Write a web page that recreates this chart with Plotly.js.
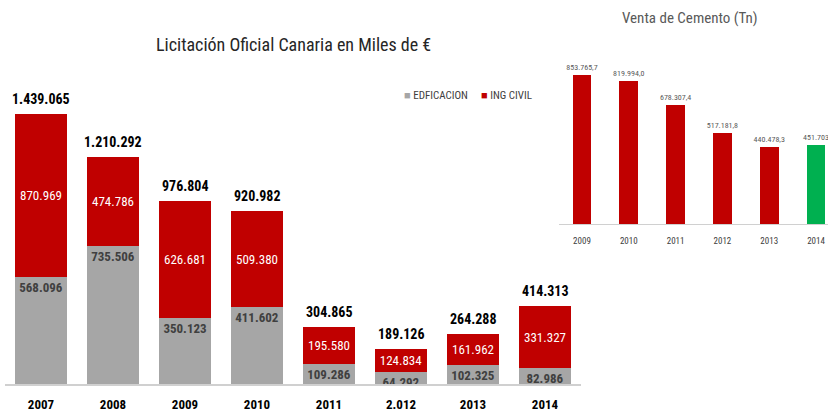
<!DOCTYPE html>
<html><head><meta charset="utf-8">
<script src="https://cdn.plot.ly/plotly-3.0.1.min.js"></script>
<style>html,body{margin:0;padding:0;background:#fff}#c{width:828px;height:412px}</style>
</head><body><div id="c"></div>
<script>
// Licitación Oficial Canaria (miles de €)
const years = ['2007','2008','2009','2010','2011','2.012','2013','2014'];
const edificacion = [568096, 735506, 350123, 411602, 109286, 64292, 102325, 82986];
const ingCivil = [870969, 474786, 626681, 509380, 195580, 124834, 161962, 331327];
const totals = [1439065, 1210292, 976804, 920982, 304865, 189126, 264288, 414313];

// Venta de Cemento (Tn)
const cementYears = ['2009','2010','2011','2012','2013','2014'];
const cementValues = [853765.7, 819994.0, 678307.4, 517181.8, 440478.3, 451703];
const cementLabels = ['853.765,7','819.994,0','678.307,4','517.181,8','440.478,3','451.703'];

function fmt(v){ return String(Math.round(v)).replace(/\B(?=(\d{3})+(?!\d))/g,'.'); }

const FONT = 'Liberation Sans Narrow, Roboto Condensed, Roboto, Arial, sans-serif';
const RED = '#c00000', GRAY = '#a6a6a6', GREEN = '#00b050';
const W = 828, H = 412;

const traces = [
  {type:'bar', name:'EDFICACION', x:years, y:edificacion, marker:{color:GRAY},
   text:edificacion.map(fmt), textposition:'inside', insidetextanchor:'end', textangle:0,
   constraintext:'none', textfont:{family:FONT, size:13, color:'#404040', weight:'bold'},
   xaxis:'x', yaxis:'y', hoverinfo:'none'},
  {type:'bar', name:'ING CIVIL', x:years, y:ingCivil, marker:{color:RED},
   text:ingCivil.map(fmt), textposition:'inside', insidetextanchor:'middle', textangle:0,
   constraintext:'none', textfont:{family:FONT, size:13, color:'#ffffff'},
   xaxis:'x', yaxis:'y', hoverinfo:'none'},
  {type:'bar', x:cementYears, y:cementValues, width:0.4,
   marker:{color:cementValues.map((v,i)=> i===cementValues.length-1 ? GREEN : RED)},
   text:cementLabels, textposition:'outside', textangle:0, cliponaxis:false, constraintext:'none',
   textfont:{family:FONT, size:8, color:'#595959'}, showlegend:false,
   xaxis:'x2', yaxis:'y2', hoverinfo:'none'}
];

const leftPxPerUnit = 187.6e-6;
const rightPxPerUnit = 175e-6;

// category index positions for the total labels
const totalAnnotations = years.map((yr, i) => ({
  x: i, y: totals[i], xref:'x', yref:'y', text: fmt(totals[i]), showarrow:false,
  xanchor:'center', yanchor:'bottom', yshift:5,
  font:{family:FONT, size:14, color:'#000000', weight:'bold'}
}));

const layout = {
  width:W, height:H, margin:{l:0,r:0,t:0,b:0},
  paper_bgcolor:'#ffffff', plot_bgcolor:'rgba(0,0,0,0)',
  barmode:'stack', bargap:0.28,
  font:{family:FONT},
  showlegend:false,
  xaxis:{type:'category', domain:[5/W, 581/W], range:[-0.5,7.5], showgrid:false, zeroline:false,
         showline:true, linecolor:'#d0d0d0', linewidth:1.5, ticks:'', ticklabelstandoff:8,
         tickfont:{family:FONT, size:13, color:'#000000', weight:'bold'}, anchor:'y', fixedrange:true},
  yaxis:{domain:[28/H, 1], range:[0, 384/leftPxPerUnit], visible:false, anchor:'x', fixedrange:true},
  xaxis2:{type:'category', domain:[558.6/W, 1], range:[-0.5, 5.256], showgrid:false, zeroline:false,
          showline:true, linecolor:'#d0d0d0', linewidth:1, ticks:'', ticklabelstandoff:8,
          tickfont:{family:FONT, size:9, color:'#404040'}, anchor:'y2', fixedrange:true},
  yaxis2:{domain:[188/H, 1], range:[0, 224/rightPxPerUnit], visible:false, anchor:'x2', fixedrange:true},
  annotations:[
    {text:'Licitación Oficial Canaria en Miles de €', xref:'paper', yref:'paper',
     x:293/W, y:1-45/H, xanchor:'center', yanchor:'middle', showarrow:false,
     font:{family:FONT, size:18, color:'#262626'}},
    {text:'Venta de Cemento (Tn)', xref:'paper', yref:'paper',
     x:690/W, y:1-18/H, xanchor:'center', yanchor:'middle', showarrow:false,
     font:{family:FONT, size:15, color:'#595959'}},
    {text:'<span style="color:'+GRAY+'">■</span> EDFICACION', xref:'paper', yref:'paper',
     x:402/W, y:1-95/H, xanchor:'left', yanchor:'middle', showarrow:false,
     font:{family:FONT, size:11, color:'#404040'}},
    {text:'<span style="color:'+RED+'">■</span> ING CIVIL', xref:'paper', yref:'paper',
     x:479/W, y:1-95/H, xanchor:'left', yanchor:'middle', showarrow:false,
     font:{family:FONT, size:11, color:'#404040'}}
  ].concat(totalAnnotations)
};

Plotly.newPlot('c', traces, layout, {staticPlot:true, displayModeBar:false});
</script></body></html>
